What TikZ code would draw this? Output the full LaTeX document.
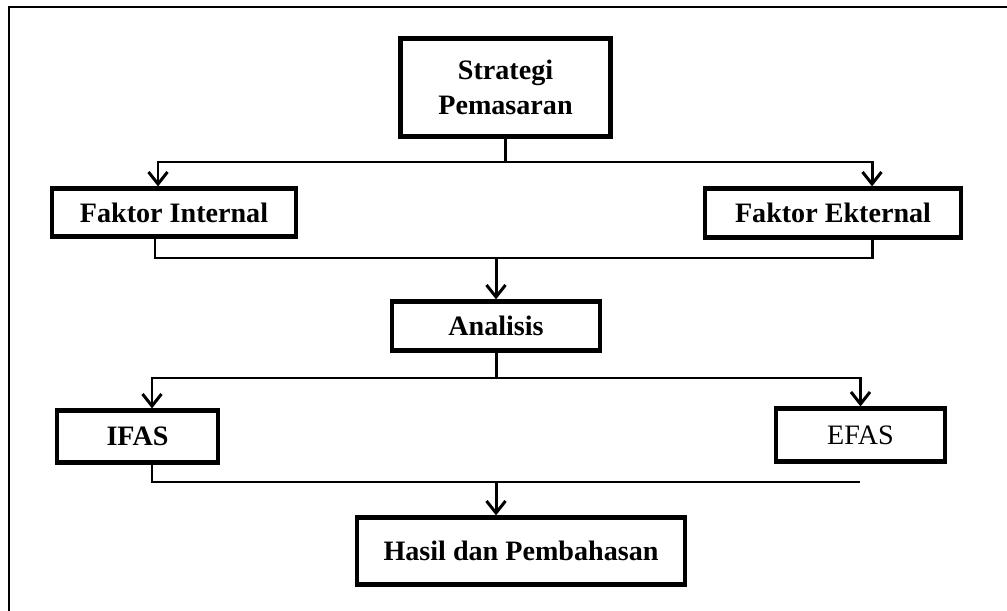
\documentclass[tikz,border=0pt]{standalone}
\usepackage{fontspec}
\setmainfont{Liberation Serif}
\usetikzlibrary{arrows.meta,calc}
\tikzset{
  box/.style={draw, line width=2.4pt, inner sep=0pt, align=center,
              font=\bfseries\fontsize{16}{20}\selectfont},
  plainbox/.style={box, font=\fontsize{16}{20}\selectfont},
  link/.style={line width=1.7pt},
  arr/.style={link, -{Straight Barb[length=2.4mm, width=3.8mm, line width=1.7pt]}},
  frame/.style={line width=1.2pt},
}

\begin{document}
\begin{tikzpicture}[x=0.02cm, y=-0.02cm]
    \useasboundingbox (0,0) rectangle (1007,611);
    \draw[frame] (9,611) -- (9,7) -- (1007,7);
    % boxes
    \node[box, minimum width=4.2cm, minimum height=1.96cm] (strategi) at (505.5,87.5) {Strategi\\Pemasaran};
    \node[box, minimum width=4.88cm, minimum height=0.96cm] (internal) at (174,212.5) {Faktor Internal};
    \node[box, minimum width=5.12cm, minimum height=0.98cm] (eksternal) at (833,213) {Faktor Ekternal};
    \node[box, minimum width=4.16cm, minimum height=0.98cm] (analisis) at (496,326) {Analisis};
    \node[box, minimum width=3.22cm, minimum height=1.04cm] (ifas) at (137.5,436.5) {IFAS};
    \node[plainbox, minimum width=3.38cm, minimum height=1.06cm] (efas) at (860.5,435) {EFAS};
    \node[box, minimum width=6.56cm, minimum height=1.34cm] (hasil) at (521,551) {Hasil dan Pembahasan};
    % junctions
    \coordinate (top-split) at (505.5,162);
    \coordinate (mid-join) at (496,258);
    \coordinate (low-split) at (496,378);
    \coordinate (low-join) at (496,482);
    \coordinate (low-end) at (860,482);
    % connectors
    \draw[link] (strategi.south) -- (top-split);
    \draw[arr] (top-split) -| ($(internal.north)+(-16,0)$);
    \draw[arr] (top-split) -| ($(eksternal.north)+(39,0)$);
    \draw[link] ($(internal.south)+(-19,0)$) |- (mid-join);
    \draw[link] ($(eksternal.south)+(39,0)$) |- (mid-join);
    \draw[arr] (mid-join) -- (analisis.north);
    \draw[link] (analisis.south) -- (low-split);
    \draw[arr] (low-split) -| ($(ifas.north)+(14.5,0)$);
    \draw[arr] (low-split) -| (efas.north);
    \draw[link] ($(ifas.south)+(14.5,0)$) |- (low-end);
    \draw[arr] (low-join) -- ($(hasil.north)+(-25,0)$);
\end{tikzpicture}
\end{document}
